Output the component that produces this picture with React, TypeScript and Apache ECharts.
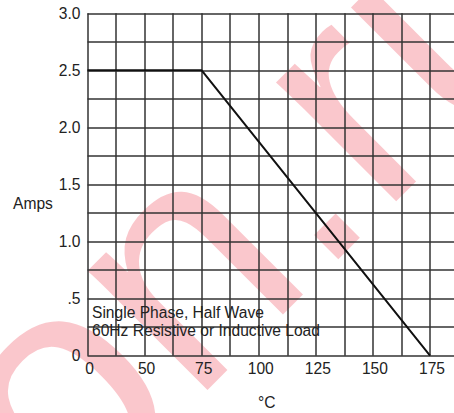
import React, { useEffect, useRef } from "react";
import * as echarts from "echarts";

// Data
const tempC = [25, 75, 175]; // axis starts at the tick labelled "0"
const amps = [2.5, 2.5, 0];

const xTickValues = [25, 50, 75, 100, 125, 150, 175];
const xTickLabels = ["0", "50", "75", "100", "125", "150", "175"];
const yTickValues = [0, 0.5, 1, 1.5, 2, 2.5, 3];
const yTickLabels = ["0", ".5", "1.0", "1.5", "2.0", "2.5", "3.0"];

const noteLines = ["Single Phase, Half Wave", "60Hz Resistive or Inductive Load"];

export default function App() {
  const ref = useRef<HTMLDivElement>(null);
  useEffect(() => {
    if (!ref.current) return;
    const chart = echarts.init(ref.current, null, { renderer: "svg" });
    const font = "'Liberation Sans', Arial, sans-serif";
    const txt = "#222";
    const gridColor = "#333";
    chart.setOption({
      animation: false,
      backgroundColor: "#fff",
      grid: { left: 87.5, top: 13.3, right: 0, bottom: 57.3, outerBoundsMode: "none" },
      xAxis: {
        type: "value",
        min: 25,
        max: 185.5,
        interval: 12.5,
        axisLine: { show: false },
        axisTick: { show: false },
        splitLine: { show: true, showMinLine: true, showMaxLine: false, lineStyle: { color: gridColor, width: 1.5 } },
        axisLabel: {
          margin: 5,
          fontSize: 15.6,
          fontFamily: font,
          color: txt,
          padding: [0, 0, 0, 4],
          showMaxLabel: false,
          formatter: (v: number) => {
            const i = xTickValues.findIndex((t) => Math.abs(t - v) < 1e-6);
            return i >= 0 ? xTickLabels[i] : "";
          },
        },
      },
      yAxis: {
        type: "value",
        min: 0,
        max: 3,
        interval: 0.25,
        axisLine: { show: false },
        axisTick: { show: false },
        splitLine: { show: true, lineStyle: { color: gridColor, width: 1.5 } },
        axisLabel: {
          margin: 7,
          fontSize: 15.6,
          fontFamily: font,
          color: txt,
          formatter: (v: number) => {
            const i = yTickValues.findIndex((t) => Math.abs(t - v) < 1e-6);
            return i >= 0 ? yTickLabels[i] : "";
          },
        },
      },
      series: [
        {
          type: "line",
          data: tempC.map((t, i) => [t, amps[i]]),
          symbol: "none",
          lineStyle: { color: "#111", width: 2 },
          z: 5,
        },
      ],
      graphic: [
        {
          type: "text",
          x: -12.5,
          y: 453,
          rotation: Math.PI / 4,
          z: -10,
          silent: true,
          style: {
            text: "on.ru",
            font: "320px 'Liberation Sans'",
            fill: "rgba(235,30,50,0.25)",
            textAlign: "left",
            textVerticalAlign: "middle",
          },
        },
        {
          type: "text",
          x: 13,
          y: 203,
          style: { text: "Amps", font: `15.6px ${font}`, fill: txt, textAlign: "left", textVerticalAlign: "middle" },
        },
        {
          type: "text",
          x: 258,
          y: 402,
          style: { text: "°C", font: `15.6px ${font}`, fill: txt, textAlign: "left", textVerticalAlign: "middle" },
        },
        {
          type: "text",
          x: 92,
          y: 312,
          z: 10,
          style: { text: noteLines[0], font: `15.6px ${font}`, fill: txt, textAlign: "left", textVerticalAlign: "middle" },
        },
        {
          type: "text",
          x: 92,
          y: 330.5,
          z: 10,
          style: { text: noteLines[1], font: `15.6px ${font}`, fill: txt, textAlign: "left", textVerticalAlign: "middle" },
        },
      ],
    });
    return () => chart.dispose();
  }, []);
  return (
    <div
      ref={ref}
      style={{ position: "fixed", left: 0, top: 0, width: 454, height: 413 }}
    />
  );
}
